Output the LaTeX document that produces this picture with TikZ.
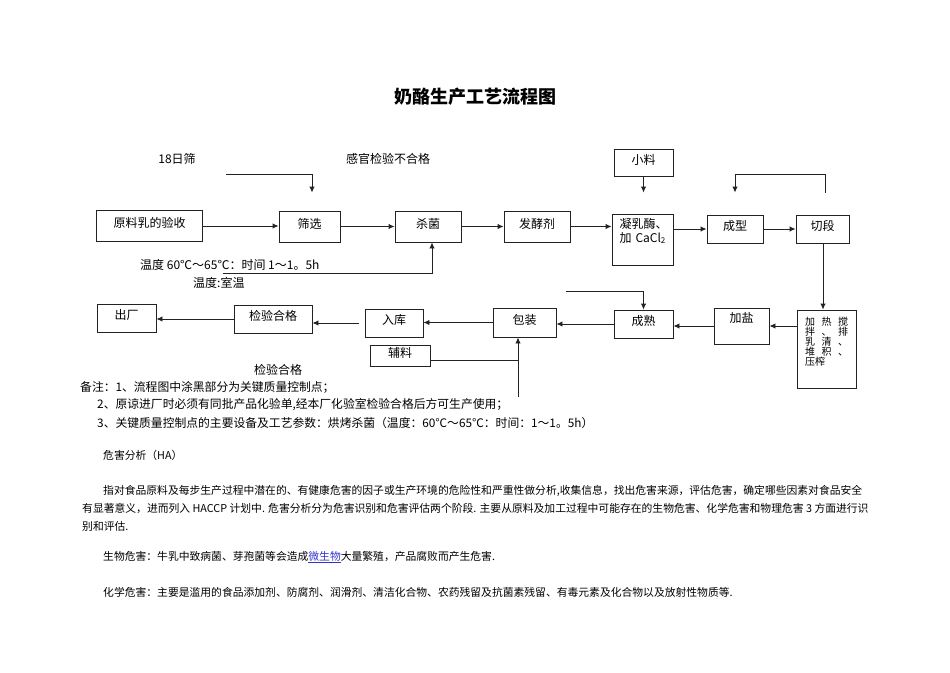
\documentclass[tikz,border=0pt]{standalone}
\usepackage{fontspec}
\setmainfont{Noto Sans CJK SC}
\definecolor{linegray}{RGB}{35,35,35}
\definecolor{linkblue}{RGB}{51,51,204}
\usetikzlibrary{arrows.meta}
\tikzset{
	stepbox/.style={rectangle, draw=linegray, line width=0.9pt, inner sep=0pt, align=center, text depth=7pt, font=\fontsize{12}{14}\selectfont},
	arrow/.style={-{Latex[length=6pt, width=5.5pt]}, line width=0.9pt, draw=linegray},
	conn/.style={line width=0.9pt, draw=linegray},
	note/.style={anchor=west, inner sep=0pt, font=\fontsize{12}{14}\selectfont},
	remark/.style={anchor=west, inner sep=0pt, font=\fontsize{11.8}{14}\selectfont},
	body/.style={anchor=west, inner sep=0pt, font=\fontsize{10.8}{13}\selectfont},
}

\begin{document}
\begin{tikzpicture}[x=1pt, y=-1pt]
	\useasboundingbox (0,0) rectangle (950,672);
	\node[font=\fontsize{18}{20}\selectfont\bfseries] (title) at (475,97) {奶酪生产工艺流程图};
	% upper row
	\node[stepbox, minimum width=106, minimum height=31] (raw) at (149.5,226) {原料乳的验收};
	\node[stepbox, minimum width=61, minimum height=31] (screen) at (309.5,226.5) {筛选};
	\node[stepbox, minimum width=66, minimum height=31] (steril) at (428,226.5) {杀菌};
	\node[stepbox, minimum width=66, minimum height=31] (starter) at (537,226.5) {发酵剂};
	\node[stepbox, minimum width=61, minimum height=51, text width=46, align=left, text depth=33pt] (rennet) at (642.5,239.5) {凝乳酶、\\\mbox{加 CaCl\textsubscript{2}}};
	\node[stepbox, minimum width=59, minimum height=27] (minor) at (643.5,162.5) {小料};
	\node[stepbox, minimum width=56, minimum height=28] (mould) at (735,229) {成型};
	\node[stepbox, minimum width=53, minimum height=28] (cut) at (822.5,229) {切段};
	% lower row
	\node[stepbox, minimum width=59, minimum height=78, text width=43, align=left, text depth=55pt, font=\fontsize{10}{10}\selectfont] (press) at (826.5,349) {加\hfill 热\hfill 搅\\拌\hfill 、\hfill 排\\乳\hfill 清\hfill 、\\堆\hfill 积\hfill 、\\压榨};
	\node[stepbox, minimum width=55, minimum height=36, text depth=17pt] (salt) at (741.5,326) {加盐};
	\node[stepbox, minimum width=59, minimum height=28] (ripen) at (643.5,324) {成熟};
	\node[stepbox, minimum width=63, minimum height=29] (pack) at (524.5,322.5) {包装};
	\node[stepbox, minimum width=58, minimum height=28] (store) at (394,323) {入库};
	\node[stepbox, minimum width=78, minimum height=28] (check) at (273,319) {检验合格};
	\node[stepbox, minimum width=59, minimum height=28] (out) at (126.5,318) {出厂};
	\node[stepbox, minimum width=60, minimum height=21] (aux) at (400,355.5) {辅料};
	% free ends
	\coordinate (sieveIn) at (226,174);
	\coordinate (heatIn) at (223,273);
	\coordinate (ripenIn) at (566,291);
	\coordinate (packIn) at (518,397);
	% labels
	\node[note, anchor=center] (sieveTxt) at (177,159) {18日筛};
	\node[note, anchor=center] (senseTxt) at (388,159) {感官检验不合格};
	\node[note] (tempTxt) at (140,265) {温度 60℃～65℃：时间 1～1。5h};
	\node[note] (roomTxt) at (193,283) {温度:室温};
	\node[note, anchor=center] (passTxt) at (278,370) {检验合格};
	% connectors
	\draw[arrow] (raw.east) -- (raw.east -| screen.west);
	\draw[arrow] (screen) -- (steril);
	\draw[arrow] (steril) -- (starter);
	\draw[arrow] (starter.east) -- (starter.east -| rennet.west);
	\draw[arrow] (mould.west -| rennet.east) -- (mould.west);
	\draw[arrow] (mould) -- (cut);
	\draw[arrow, shorten >=18pt] (sieveIn) -| ([xshift=2.5pt]screen.north);
	\draw[arrow] (heatIn) -| ([xshift=4pt]steril.south);
	\draw[arrow, shorten >=21pt] (minor.south) -- (minor.south |- rennet.north);
	\draw[arrow] ([xshift=2.5pt, yshift=22pt]cut.north) -- ++(0,-18) -| ([yshift=22pt]mould.north);
	\draw[arrow] ([xshift=0.5pt]cut.south) -- ([xshift=0.5pt]cut.south |- press.north);
	\draw[arrow] (salt.east -| press.west) -- (salt.east);
	\draw[arrow] (salt.west) -- (salt.west -| ripen.east);
	\draw[arrow] (ripen.west) -- (ripen.west -| pack.east);
	\draw[arrow] (ripenIn) -| (ripen.north);
	\draw[arrow] (pack.west) -- (pack.west -| store.east);
	\draw[arrow, shorten <=6pt] (store.west) -- (store.west -| check.east);
	\draw[arrow] (check.west) -- (check.west -| out.east);
	\draw[conn] ([yshift=-4.5pt]aux.east) -- ([yshift=-4.5pt]aux.east -| packIn);
	\draw[arrow] (packIn) -- (packIn |- pack.south);
	% remarks
	\node[remark] (rem1) at (80,387) {备注：1、流程图中涂黑部分为关键质量控制点；};
	\node[remark] (rem2) at (97,405) {2、原谅进厂时必须有同批产品化验单,经本厂化验室检验合格后方可生产使用；};
	\node[remark] (rem3) at (97,423) {3、关键质量控制点的主要设备及工艺参数：烘烤杀菌（温度：60℃～65℃：时间：1～1。5h）};
	% hazard analysis
	\node[body] (haHead) at (103,455) {危害分析（HA）};
	\node[body] (ha1) at (103,491) {指对食品原料及每步生产过程中潜在的、有健康危害的因子或生产环境的危险性和严重性做分析,收集信息，找出危害来源，评估危害，确定哪些因素对食品安全};
	\node[body] (ha2) at (82,508) {有显著意义，进而列入 HACCP 计划中. 危害分析分为危害识别和危害评估两个阶段. 主要从原料及加工过程中可能存在的生物危害、化学危害和物理危害 3 方面进行识};
	\node[body] (ha3) at (82,526) {别和评估.};
	\node[body] (bio) at (103,557) {生物危害：牛乳中致病菌、芽孢菌等会造成\textcolor{linkblue}{\underline{微生物}}大量繁殖，产品腐败而产生危害.};
	\node[body] (chem) at (103,592) {化学危害：主要是滥用的食品添加剂、防腐剂、润滑剂、清洁化合物、农药残留及抗菌素残留、有毒元素及化合物以及放射性物质等.};
\end{tikzpicture}
\end{document}
